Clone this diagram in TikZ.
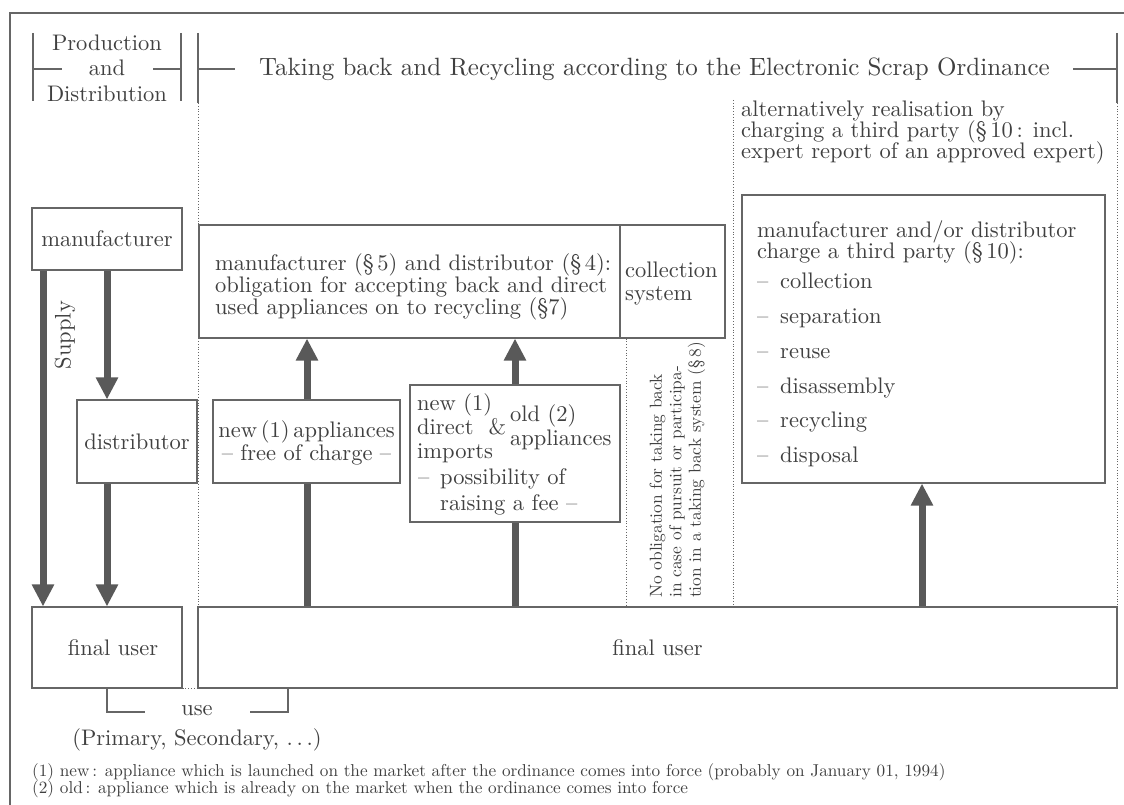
\documentclass[tikz,border=0pt]{standalone}
\usepackage{fontspec}
\setmainfont{lmroman10-regular}[Extension=.otf]
\usetikzlibrary{arrows.meta}
\definecolor{ink}{HTML}{404040}
\definecolor{rulegray}{HTML}{666666}
\definecolor{flowgray}{HTML}{595959}
\newcommand{\fsz}[2]{\fontsize{#1}{#2}\selectfont}
\begin{document}
\begin{tikzpicture}[x=1pt,y=-1pt,
  box/.style={draw=rulegray,line width=1.1pt,fill=white,inner sep=0pt,text=ink,font=\fsz{22.5}{22}},
  txt/.style={inner sep=0pt,text=ink,font=\fsz{22.5}{22}},
  ln/.style={txt,anchor=base west},
  small/.style={inner sep=0pt,text=ink,font=\fsz{17.2}{17.5},anchor=base west},
  flowarrow/.style={draw=flowgray,line width=7pt,-{Triangle[width=21pt,length=22pt]}},
  flowline/.style={draw=flowgray,line width=7pt},
  dotline/.style={draw=rulegray,line width=0.9pt,dash pattern=on 0.9pt off 1.9pt},
  rule/.style={draw=rulegray,line width=1.1pt},
]
\useasboundingbox (0,0) rectangle (1124,805);
% outer frame
\draw[rulegray,line width=1.6pt] (10,805) -- (10,13) -- (1124,13);

% column headings
\node[txt,align=center,font=\fsz{22.5}{25.5}] (prod) at (107,68) {Production\\and\\Distribution};
\draw[rule] (33,33) -- (33,101);
\draw[rule] (33,69) -- (62,69);
\draw[rule] (153,69) -- (181,69);
\draw[rule] (181,33) -- (181,101);

\node[txt,anchor=west,font=\fsz{25}{28}] (title) at (259,69) {Taking back and Recycling according to the Electronic Scrap Ordinance};
\coordinate (tl) at (198,103);
\coordinate (tr) at (1117,103);
\draw[rule] (198,33) -- (tl);
\draw[rule] (198,69) -- (235,69);
\draw[rule] (1073,69) -- (1117,69);
\draw[rule] (1117,33) -- (tr);

% production and distribution column
\node[box,minimum width=150pt,minimum height=62pt] (mfr) at (107,239) {manufacturer};
\node[box,minimum width=120pt,minimum height=83pt] (dist) at (137,441.5) {distributor};
\node[box,minimum width=150pt,minimum height=81pt] (fuL) at (107,647.5) {\hspace*{12pt}final user};
\node[txt,rotate=90] (supply) at (65,335) {Supply};

% taking back column
\node[box,minimum width=919pt,minimum height=81pt] (fuR) at (657.5,647.5) {final user};
\node[box,minimum width=421pt,minimum height=113pt] (main) at (409.5,281.5) {};
\node[ln] (m1) at (215,270) {manufacturer (\S\,5) and distributor (\S\,4):};
\node[ln] (m2) at (215,292) {obligation for accepting back and direct};
\node[ln] (m3) at (215,314) {used appliances on to recycling (\S7)};
\node[box,minimum width=105pt,minimum height=113pt] (coll) at (672.5,281.5) {};
\node[ln] (c1) at (625,277) {collection};
\node[ln] (c2) at (625,300) {system};

\node[box,minimum width=187pt,minimum height=83pt] (newb) at (306.5,441.5) {};
\node[txt,anchor=base] (n1) at (306.5,437) {new\,(1)\,appliances};
\node[txt,anchor=base] (n2) at (306.5,460) {-- free of charge --};

\node[box,minimum width=210pt,minimum height=137pt] (oldb) at (515,453.5) {};
\node[ln] (o1) at (417,410) {new (1)};
\node[ln] (o2) at (417,434) {direct \ \&};
\node[ln] (o3) at (417,458) {imports};
\node[ln] (o4) at (510,421) {old (2)};
\node[ln] (o5) at (510,445) {appliances};
\node[ln] (o6) at (418,484) {--};
\node[ln] (o7) at (440,484) {possibility of};
\node[ln] (o8) at (440,510) {raising a fee --};

\node[small,rotate=90,anchor=west,align=left,font=\fsz{17.4}{19.5}] (noob) at (677.5,598)
  {No obligation for taking back\\in case of pursuit or participa-\\tion in a taking back system (\S\,8)};

% third party realisation
\node[ln] (a1) at (741,117) {alternatively realisation by};
\node[ln] (a2) at (741,138) {charging a third party (\S\,10\,: incl.};
\node[ln] (a3) at (741,159) {expert report of an approved expert)};

\node[box,minimum width=363pt,minimum height=288pt] (third) at (923.5,339) {};
\node[ln] (r1) at (757,237) {manufacturer and/or distributor};
\node[ln] (r2) at (757,258) {charge a third party (\S\,10):};
\foreach \y/\w [count=\i] in {288/collection,323/separation,358/reuse,393/disassembly,427/recycling,462/disposal}{
  \node[ln] (rd\i) at (757,\y) {--};
  \node[ln] (ri\i) at (780,\y) {\w};
}

% supply arrows
\coordinate (xs) at (43,0);
\coordinate (xd) at (107,0);
\draw[flowarrow] (xs |- mfr.south) -- (xs |- fuL.north);
\draw[flowarrow] (xd |- mfr.south) -- (xd |- dist.north);
\draw[flowarrow] (xd |- dist.south) -- (xd |- fuL.north);

% taking back arrows
\coordinate (xa) at (307,0);
\coordinate (xb) at (515,0);
\coordinate (xc) at (922,0);
\draw[flowline] (xa |- fuR.north) -- (xa |- newb.south);
\draw[flowarrow] (xa |- newb.north) -- (xa |- main.south);
\draw[flowline] (xb |- fuR.north) -- (xb |- oldb.south);
\draw[flowarrow] (xb |- oldb.north) -- (xb |- main.south);
\draw[flowarrow] (xc |- fuR.north) -- (xc |- third.south);

% dotted separators
\coordinate (xe) at (626,0);
\coordinate (ft) at (733,100);
\draw[dotline] (tl) -- (tl |- fuR.north);
\draw[dotline] (xe |- coll.south) -- (xe |- fuR.north);
\draw[dotline] (ft) -- (ft |- fuR.north);
\draw[dotline] (tr) -- (tr |- fuR.north);
\draw[dotline] (fuL.south east) -- (fuR.south west);

% use bracket
\node[txt] (use) at (197,711) {use};
\node[txt] (prim) at (197,740) {(Primary, Secondary, .\,.\,.)};
\coordinate (uL) at (145,712);
\coordinate (uR) at (250,712);
\coordinate (xu) at (288,0);
\draw[rule] (fuL.south) |- (uL);
\draw[rule] (uR) -| (xu |- fuR.south);

% notes
\node[small] (f1) at (32,776) {(1) new\,: appliance which is launched on the market after the ordinance comes into force (probably on January 01, 1994)};
\node[small] (f2) at (32,793) {(2) old\,: appliance which is already on the market when the ordinance comes into force};
\end{tikzpicture}
\end{document}
